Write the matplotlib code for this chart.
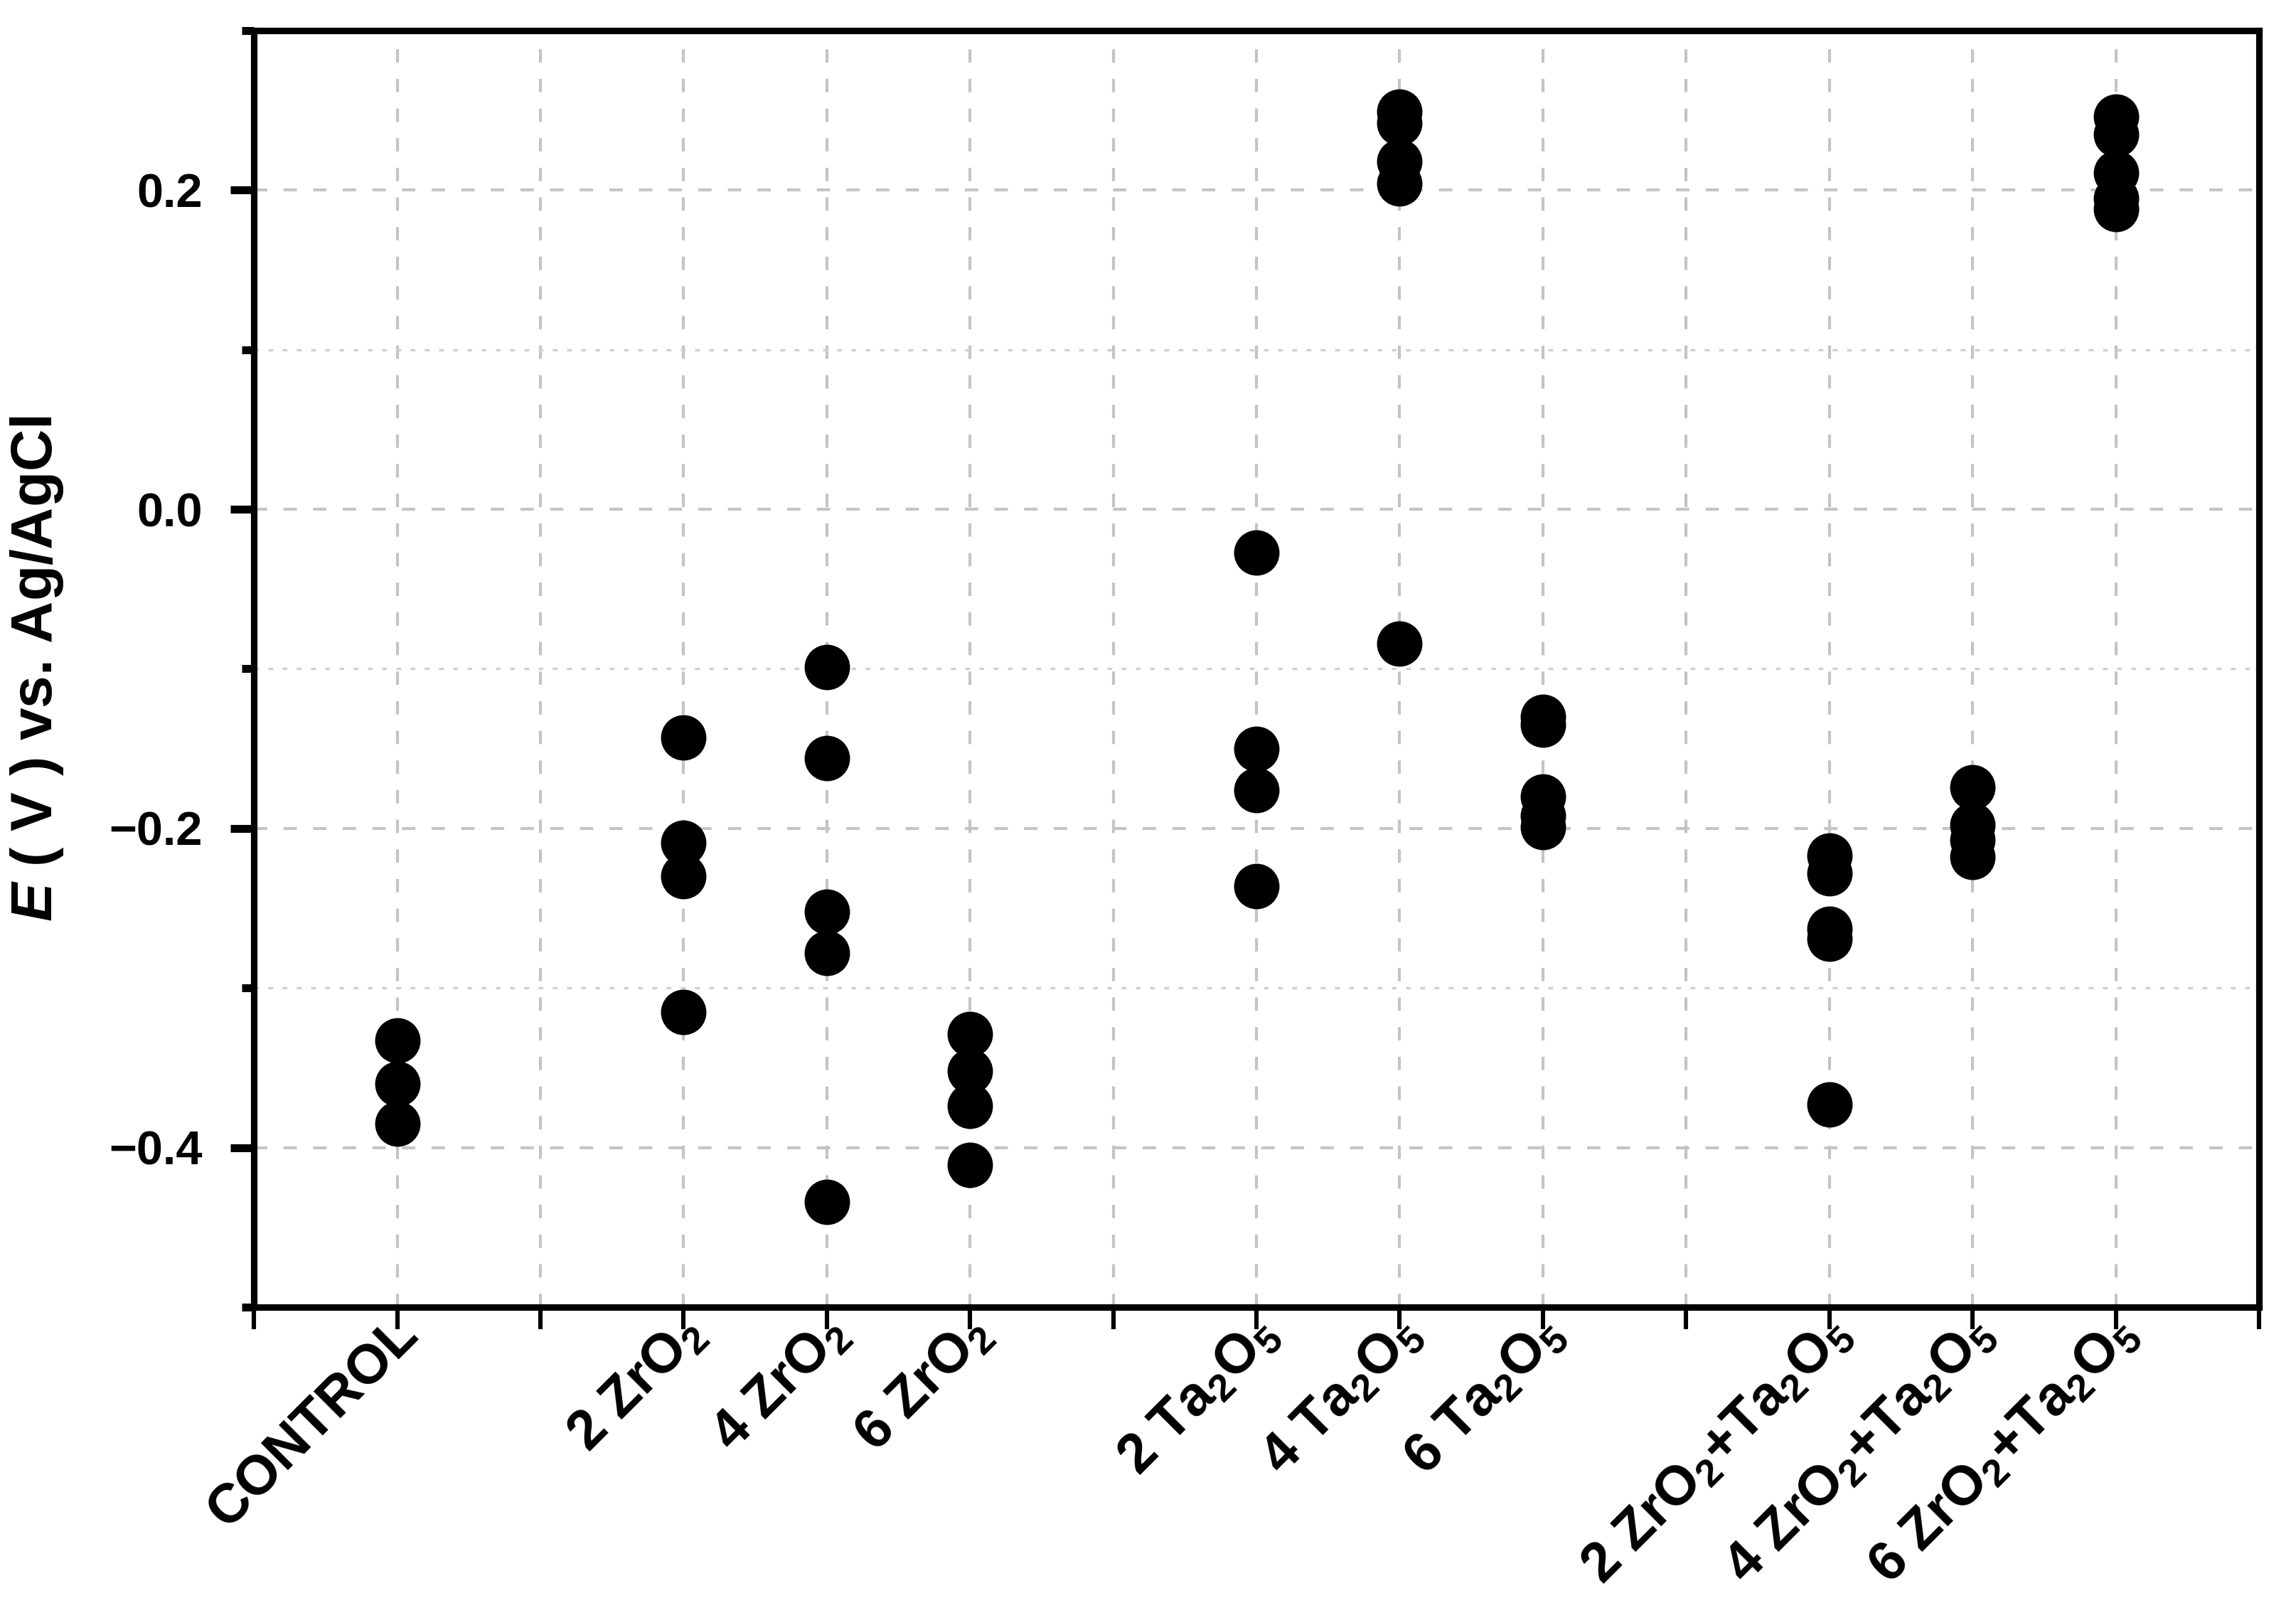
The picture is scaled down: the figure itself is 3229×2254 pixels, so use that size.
import matplotlib
matplotlib.use('Agg')
import matplotlib.pyplot as plt
import matplotlib.transforms as mtransforms
import numpy as np

plt.rcParams['font.family'] = ['Liberation Sans', 'DejaVu Sans']
plt.rcParams['font.weight'] = 'bold'
plt.rcParams['mathtext.fontset'] = 'custom'
plt.rcParams['mathtext.rm'] = 'Liberation Sans:bold'
plt.rcParams['mathtext.bf'] = 'Liberation Sans:bold'
plt.rcParams['mathtext.it'] = 'Liberation Sans:italic:bold'
plt.rcParams['mathtext.default'] = 'bf'

# tick labels (empty slots are gaps between groups)
labels = ['CONTROL', '', '2 ZrO$_2$', '4 ZrO$_2$', '6 ZrO$_2$', '',
          '2 Ta$_2$O$_5$', '4 Ta$_2$O$_5$', '6 Ta$_2$O$_5$', '',
          '2 ZrO$_2$+Ta$_2$O$_5$', '4 ZrO$_2$+Ta$_2$O$_5$', '6 ZrO$_2$+Ta$_2$O$_5$']

# potentials (V vs Ag/AgCl) for each sample
control = [-0.333, -0.360, -0.385]
zro2_2 = [-0.143, -0.209, -0.230, -0.315]
zro2_4 = [-0.099, -0.156, -0.252, -0.278, -0.434]
zro2_6 = [-0.329, -0.352, -0.374, -0.411]
ta2o5_2 = [-0.027, -0.150, -0.176, -0.236]
ta2o5_4 = [0.249, 0.242, 0.218, 0.204, -0.084]
ta2o5_6 = [-0.130, -0.135, -0.180, -0.192, -0.199]
mix_2 = [-0.217, -0.228, -0.263, -0.269, -0.373]
mix_4 = [-0.174, -0.198, -0.207, -0.218]
mix_6 = [0.246, 0.235, 0.211, 0.195, 0.188]

series = [(1, control), (3, zro2_2), (4, zro2_4), (5, zro2_6),
          (7, ta2o5_2), (8, ta2o5_4), (9, ta2o5_6),
          (11, mix_2), (12, mix_4), (13, mix_6)]

fig = plt.figure(figsize=(16.145, 11.27), dpi=200)
ax = fig.add_axes([0.1106, 0.1846, 0.8733, 0.7963])

for pos, vals in series:
    ax.plot([pos] * len(vals), vals, 'o', color='black', ms=22, zorder=3)

ax.set_xlim(0, 14)
ax.set_ylim(-0.5, 0.3)

ax.set_xticks(np.arange(0, 15))
ax.set_xticklabels([])
# rotated category labels, placed against the tick ends
offset = mtransforms.ScaledTranslation(-0.04, 0.0, fig.dpi_scale_trans)
for i, lab in enumerate(labels):
    ax.text(i + 1, 0, lab, transform=ax.get_xaxis_transform() + offset,
            rotation=45, ha='right', va='top', rotation_mode='anchor',
            fontsize=28, fontweight='bold', clip_on=False)

ax.set_yticks([-0.4, -0.2, 0.0, 0.2])
ax.set_yticks(np.arange(-0.5, 0.31, 0.1), minor=True)
ax.set_yticklabels(['\u22120.4', '\u22120.2', '0.0', '0.2'], fontsize=24, fontweight='bold')

ax.tick_params(axis='x', which='major', direction='out', length=11, width=2.2)
ax.tick_params(axis='y', which='major', direction='out', length=12, width=4, pad=14)
ax.tick_params(axis='y', which='minor', direction='out', length=6, width=4)

for s in ax.spines.values():
    s.set_linewidth(3.3)

ax.grid(True, axis='x', which='major', color='#c4c4c4', lw=1.5, dashes=(4.5, 5.5))
ax.grid(True, axis='y', which='major', color='#c4c4c4', lw=1.5, dashes=(4.5, 5.5))
ax.grid(True, axis='y', which='minor', color='#d0d0d0', lw=1.2, dashes=(2, 4))
ax.set_axisbelow(True)

ax.set_ylabel('$\\mathit{E}$ ( V ) vs. Ag/AgCl', fontsize=29.5, fontweight='bold', labelpad=22)

fig.savefig('out.png', dpi=200)
